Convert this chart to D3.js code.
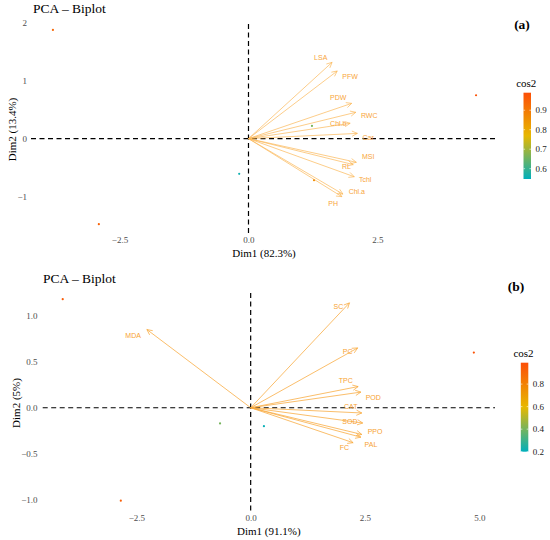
<!DOCTYPE html>
<html>
<head>
<meta charset="utf-8">
<script src="https://cdn.jsdelivr.net/npm/d3@7"></script>
<style>
  html, body { margin: 0; padding: 0; background: #fff; }
  svg { display: block; }
</style>
</head>
<body>
<svg id="chart" width="550" height="540"></svg>
<script>
// ---------------- DATA: panel (a) ----------------
const aVarNames  = ["LSA","PFW","PDW","RWC","Chl.b","Car","MSI","RL","Tchl","Chl.a","PH"];
const aVarDim1   = [1.62, 1.72, 2.00, 2.08, 1.97, 2.11, 2.09, 2.03, 2.05, 1.83, 1.81];
const aVarDim2   = [1.32, 1.17, 0.61, 0.455, 0.265, 0.09, -0.41, -0.45, -0.66, -0.96, -1.005];
const aLabDim1   = [1.40, 1.97, 1.74, 2.34, 1.74, 2.32, 2.32, 1.90, 2.26, 2.10, 1.64];
const aLabDim2   = [1.41, 1.07, 0.71, 0.40, 0.26, 0.02, -0.31, -0.49, -0.70, -0.92, -1.12];
const aIndDim1   = [-3.79, -2.90, -0.18, 4.41, 1.23, 1.27];
const aIndDim2   = [1.88, -1.48, -0.61, 0.75, 0.22, -0.72];
const aIndCos2   = [0.94, 0.95, 0.56, 0.98, 0.66, 0.86];
const aXTicks    = [-2.5, 0, 2.5];
const aYTicks    = [-1, 0, 1, 2];
const aCos2Range = [0.547, 0.99];
const aCos2Ticks = [0.6, 0.7, 0.8, 0.9];
const aDim1Title = "Dim1 (82.3%)";
const aDim2Title = "Dim2 (13.4%)";

// ---------------- DATA: panel (b) ----------------
const bVarNames  = ["MDA","SC","PC","TPC","POD","CAT","SOD","PPO","PAL","FC"];
const bVarDim1   = [-2.27, 2.16, 2.34, 2.35, 2.41, 2.43, 2.45, 2.43, 2.41, 2.24];
const bVarDim2   = [0.85, 1.14, 0.65, 0.23, 0.17, -0.057, -0.166, -0.29, -0.32, -0.38];
const bLabDim1   = [-2.57, 1.92, 2.12, 2.08, 2.68, 2.19, 2.17, 2.72, 2.63, 2.05];
const bLabDim2   = [0.78, 1.10, 0.61, 0.30, 0.107, 0.01, -0.147, -0.26, -0.40, -0.43];
const bIndDim1   = [-4.11, -2.84, -0.67, 0.29, 4.88];
const bIndDim2   = [1.18, -1.01, -0.17, -0.20, 0.60];
const bIndCos2   = [0.94, 0.93, 0.40, 0.21, 0.97];
const bXTicks    = [-2.5, 0, 2.5, 5];
const bYTicks    = [-1, -0.5, 0, 0.5, 1];
const bCos2Range = [0.2, 0.99];
const bCos2Ticks = [0.2, 0.4, 0.6, 0.8];
const bDim1Title = "Dim1 (91.1%)";
const bDim2Title = "Dim2 (5%)";

const gradientCols = ["#00AFBB", "#E7B800", "#FC4E07"];

// ---------------- DRAWING ----------------
const svg = d3.select("#chart");
const serif = "'Liberation Serif', 'DejaVu Serif', serif";
const sans = "'Liberation Sans', Arial, sans-serif";

let gradId = 0;
function drawPanel(cfg) {
  const g = svg.append("g");
  const x = d3.scaleLinear().domain(cfg.xDomain).range([cfg.left, cfg.right]);
  const y = d3.scaleLinear().domain(cfg.yDomain).range([cfg.bottom, cfg.top]);
  const cos2Scale = d3.scaleLinear()
    .domain([cfg.cos2Range[0], (cfg.cos2Range[0] + cfg.cos2Range[1]) / 2, cfg.cos2Range[1]])
    .range(gradientCols).interpolate(d3.interpolateRgb);

  // title
  g.append("text").attr("x", cfg.titleX).attr("y", cfg.titleY)
    .attr("font-family", serif).attr("font-size", 13.5).attr("fill", "#000")
    .text("PCA \u2013 Biplot");
  g.append("text").attr("x", cfg.tagX).attr("y", cfg.tagY)
    .attr("font-family", serif).attr("font-size", 13.5).attr("font-weight", "bold")
    .attr("text-anchor", "middle").text(cfg.tag);

  // axes (tick labels only)
  const xAxis = d3.axisBottom(x).tickValues(cfg.xTicks).tickSize(0).tickPadding(0)
    .tickFormat(d3.format(cfg.xFmt));
  const gx = g.append("g").attr("transform", `translate(0,${cfg.xTickY})`).call(xAxis);
  const yAxis = d3.axisLeft(y).tickValues(cfg.yTicks).tickSize(0).tickPadding(0)
    .tickFormat(d3.format(cfg.yFmt));
  const gy = g.append("g").attr("transform", `translate(${cfg.yTickX},0)`).call(yAxis);
  [gx, gy].forEach(a => {
    a.select(".domain").remove();
    a.selectAll("text").attr("font-family", serif).attr("font-size", 9).attr("fill", "#4D4D4D");
  });

  // axis titles
  g.append("text").attr("x", (cfg.left + cfg.right) / 2).attr("y", cfg.xTitleY)
    .attr("text-anchor", "middle").attr("font-family", serif).attr("font-size", 11)
    .text(cfg.xTitle);
  g.append("text")
    .attr("transform", `translate(${cfg.yTitleX},${(cfg.top + cfg.bottom) / 2}) rotate(-90)`)
    .attr("text-anchor", "middle").attr("font-family", serif).attr("font-size", 11)
    .text(cfg.yTitle);

  // dashed reference lines
  g.append("line").attr("x1", cfg.left).attr("x2", cfg.right).attr("y1", y(0)).attr("y2", y(0))
    .attr("stroke", "#000").attr("stroke-width", 1.2).attr("stroke-dasharray", "5,3.5");
  g.append("line").attr("x1", x(0)).attr("x2", x(0)).attr("y1", cfg.top).attr("y2", cfg.bottom)
    .attr("stroke", "#000").attr("stroke-width", 1.2).attr("stroke-dasharray", "5,3.5");

  // individuals
  const ind = cfg.indX.map((d, i) => ({ x: d, y: cfg.indY[i], c: cfg.indCos2[i] }));
  g.selectAll(".ind").data(ind).enter().append("circle")
    .attr("cx", d => x(d.x)).attr("cy", d => y(d.y)).attr("r", 1.1)
    .attr("fill", d => cos2Scale(d.c));

  // variable arrows
  const vars = cfg.varNames.map((n, i) => ({
    name: n, x: cfg.varX[i], y: cfg.varY[i], lx: cfg.labX[i], ly: cfg.labY[i]
  }));
  const ox = x(0), oy = y(0);
  const headLen = 6, headAng = Math.PI / 7;
  const ag = g.append("g").attr("fill", "none").attr("stroke", cfg.arrowCol)
    .attr("stroke-width", 0.8).attr("stroke-opacity", cfg.arrowOpacity);
  vars.forEach(v => {
    const tx = x(v.x), ty = y(v.y);
    const ang = Math.atan2(ty - oy, tx - ox);
    const p = d3.path();
    p.moveTo(ox, oy); p.lineTo(tx, ty);
    p.moveTo(tx - headLen * Math.cos(ang - headAng), ty - headLen * Math.sin(ang - headAng));
    p.lineTo(tx, ty);
    p.lineTo(tx - headLen * Math.cos(ang + headAng), ty - headLen * Math.sin(ang + headAng));
    ag.append("path").attr("d", p.toString());
  });
  g.selectAll(".vlab").data(vars).enter().append("text")
    .attr("x", d => x(d.lx)).attr("y", d => y(d.ly)).attr("dy", "0.35em")
    .attr("text-anchor", "middle").attr("font-family", sans).attr("font-size", 7)
    .attr("fill", cfg.labelCol).text(d => d.name);

  // legend
  const id = "grad" + (gradId++);
  const defs = svg.append("defs");
  const grad = defs.append("linearGradient").attr("id", id)
    .attr("x1", 0).attr("x2", 0).attr("y1", 1).attr("y2", 0);
  d3.range(0, 1.0001, 0.1).forEach(t => {
    const v = cfg.cos2Range[0] + t * (cfg.cos2Range[1] - cfg.cos2Range[0]);
    grad.append("stop").attr("offset", t).attr("stop-color", cos2Scale(v));
  });
  const ly = d3.scaleLinear().domain(cfg.cos2Range).range([cfg.legBottom, cfg.legTop]);
  g.append("rect").attr("x", cfg.legX).attr("y", cfg.legTop).attr("width", cfg.legW)
    .attr("height", cfg.legBottom - cfg.legTop).attr("fill", `url(#${id})`);
  g.append("text").attr("x", cfg.legX + cfg.legW / 2 - 1).attr("y", cfg.legTop - 6)
    .attr("text-anchor", "middle").attr("font-family", serif).attr("font-size", 11).text("cos2");
  const lt = g.append("g");
  cfg.cos2Ticks.forEach(t => {
    lt.append("line").attr("x1", cfg.legX).attr("x2", cfg.legX + 1.6)
      .attr("y1", ly(t)).attr("y2", ly(t)).attr("stroke", "#fff").attr("stroke-width", 0.6);
    lt.append("line").attr("x1", cfg.legX + cfg.legW - 1.6).attr("x2", cfg.legX + cfg.legW)
      .attr("y1", ly(t)).attr("y2", ly(t)).attr("stroke", "#fff").attr("stroke-width", 0.6);
    lt.append("text").attr("x", cfg.legX + cfg.legW + 4.5).attr("y", ly(t)).attr("dy", "0.33em")
      .attr("font-family", serif).attr("font-size", 9).attr("fill", "#222")
      .text(d3.format(".1f")(t));
  });
}

drawPanel({
  left: 31, right: 497, top: 24, bottom: 235,
  xDomain: [-4.215, 4.816], yDomain: [-1.668, 1.983],
  titleX: 33, titleY: 13, tag: "(a)", tagX: 522, tagY: 29,
  xTicks: aXTicks, yTicks: aYTicks, xFmt: ".1f", yFmt: "d",
  xTickY: 237, yTickX: 27,
  xTitle: aDim1Title, yTitle: aDim2Title, xTitleY: 256.5, yTitleX: 16,
  indX: aIndDim1, indY: aIndDim2, indCos2: aIndCos2,
  varNames: aVarNames, varX: aVarDim1, varY: aVarDim2, labX: aLabDim1, labY: aLabDim2,
  arrowCol: "#FBB552", arrowOpacity: 0.85, labelCol: "#F8A53A",
  cos2Range: aCos2Range, cos2Ticks: aCos2Ticks,
  legX: 523.5, legW: 7.5, legTop: 92.7, legBottom: 179
});

drawPanel({
  left: 42.7, right: 495, top: 293, bottom: 513,
  xDomain: [-4.548, 5.343], yDomain: [-1.144, 1.247],
  titleX: 43, titleY: 283, tag: "(b)", tagX: 516, tagY: 291,
  xTicks: bXTicks, yTicks: bYTicks, xFmt: ".1f", yFmt: ".1f",
  xTickY: 514.5, yTickX: 37.5,
  xTitle: bDim1Title, yTitle: bDim2Title, xTitleY: 534.5, yTitleX: 19.5,
  indX: bIndDim1, indY: bIndDim2, indCos2: bIndCos2,
  varNames: bVarNames, varX: bVarDim1, varY: bVarDim2, labX: bLabDim1, labY: bLabDim2,
  arrowCol: "#F9A93A", arrowOpacity: 0.95, labelCol: "#F7A232",
  cos2Range: bCos2Range, cos2Ticks: bCos2Ticks,
  legX: 520.8, legW: 7.5, legTop: 362.7, legBottom: 451.7
});
</script>
</body>
</html>
